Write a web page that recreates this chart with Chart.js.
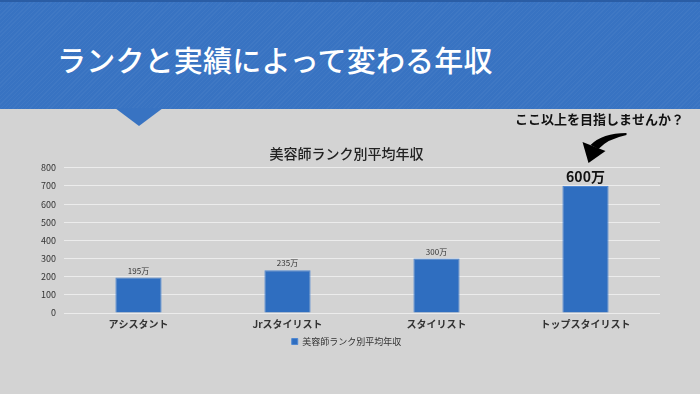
<!DOCTYPE html>
<html lang="ja">
<head>
<meta charset="utf-8">
<script src="https://cdn.jsdelivr.net/npm/chart.js@4/dist/chart.umd.min.js"></script>
<style>
  html, body { margin: 0; padding: 0; }
  body { width: 700px; height: 394px; background: #d3d3d3; position: relative; overflow: hidden;
         font-family: "Noto Sans CJK JP", "Noto Sans", sans-serif; }
  #banner { position: absolute; left: 0; top: 0; width: 700px; height: 109px;
            background: repeating-linear-gradient(135deg, rgba(255,255,255,0.035) 0 1px, rgba(0,0,0,0) 1px 3px), #3873c2;
            border-top: 2px solid #2a5da5; box-sizing: border-box; }
  #banner h1 { position: absolute; left: 57px; top: 37px; margin: 0; color: #fff;
               font-size: 29px; font-weight: 500; line-height: 40px; letter-spacing: 0.2px; }
  #pointer { position: absolute; left: 115px; top: 108px; width: 0; height: 0;
             border-left: 24px solid transparent; border-right: 24px solid transparent;
             border-top: 18px solid #3873c2; }
  #wrap { position: absolute; left: 0; top: 108px; width: 700px; height: 286px; }
</style>
</head>
<body>
<div id="banner"><h1>ランクと実績によって変わる年収</h1></div>
<div id="pointer"></div>
<div id="wrap"><canvas id="rankChart"></canvas></div>
<script>
// data
const ranks = ["アシスタント", "Jrスタイリスト", "スタイリスト", "トップスタイリスト"];
const avgIncome = [195, 235, 300, 700];
const incomeLabels = ["195万", "235万", "300万", "600万"];
const yTicks = [0, 100, 200, 300, 400, 500, 600, 700, 800];
const seriesName = "美容師ランク別平均年収";
const highlightIndex = 3;
const calloutText = "ここ以上を目指しませんか？";

const jpFont = '"Noto Sans CJK JP", "Noto Sans", sans-serif';

// value labels + arrow callout above the top bar
const barLabels = {
  id: "barLabels",
  afterDatasetsDraw(chart) {
    const ctx = chart.ctx;
    const bars = chart.getDatasetMeta(0).data;
    ctx.save();
    ctx.textAlign = "center";
    ctx.textBaseline = "middle";
    bars.forEach((bar, i) => {
      if (i === highlightIndex) {
        ctx.font = "bold 14px " + jpFont;
        ctx.fillStyle = "#111";
        ctx.fillText(incomeLabels[i], bar.x, bar.y - 9);
      } else {
        ctx.font = "8px " + jpFont;
        ctx.fillStyle = "#333";
        ctx.fillText(incomeLabels[i], bar.x, bar.y - 7);
      }
    });

    // arrow, placed relative to the highlighted bar
    const b = bars[highlightIndex];
    const x = b.x, y = b.y;
    ctx.fillStyle = "#000";
    ctx.beginPath();
    ctx.moveTo(x + 41, y - 53);
    ctx.quadraticCurveTo(x + 17, y - 53, x + 5, y - 41);
    ctx.lineTo(x + 13, y - 37);
    ctx.quadraticCurveTo(x + 22, y - 47, x + 41, y - 51);
    ctx.closePath();
    ctx.fill();
    ctx.beginPath();
    ctx.moveTo(x - 3, y - 44);
    ctx.lineTo(x + 20, y - 35);
    ctx.lineTo(x + 3, y - 23);
    ctx.closePath();
    ctx.fill();

    ctx.font = "bold 13px " + jpFont;
    ctx.fillStyle = "#111";
    ctx.fillText(calloutText, x + 14, 11);
    ctx.restore();
  }
};

new Chart(document.getElementById("rankChart"), {
  type: "bar",
  data: {
    labels: ranks,
    datasets: [{
      label: seriesName,
      data: avgIncome,
      backgroundColor: "#2f6ec0",
      borderColor: "#5088d2",
      borderWidth: 1,
      categoryPercentage: 1,
      barPercentage: 0.31
    }]
  },
  options: {
    responsive: true,
    maintainAspectRatio: false,
    animation: false,
    layout: { padding: { left: 33, right: 40, top: 0, bottom: 38 } },
    scales: {
      x: {
        grid: { display: false, drawTicks: false },
        border: { display: false },
        ticks: { color: "#333", font: { family: jpFont, size: 10, weight: "bold" }, padding: 5 }
      },
      y: {
        min: 0,
        max: 800,
        afterBuildTicks: (axis) => { axis.ticks = yTicks.map(v => ({ value: v })); },
        grid: { color: "#ececec", lineWidth: 1, drawTicks: false },
        border: { display: false },
        ticks: { color: "#333", font: { family: jpFont, size: 9 }, padding: 8 }
      }
    },
    plugins: {
      title: {
        display: true,
        text: seriesName,
        color: "#222",
        font: { family: jpFont, size: 14, weight: "500" },
        padding: { top: 37, bottom: 6 }
      },
      legend: {
        position: "bottom",
        labels: {
          color: "#333",
          font: { family: jpFont, size: 9 },
          boxWidth: 6,
          boxHeight: 6,
          padding: 2
        }
      },
      tooltip: { enabled: false }
    }
  },
  plugins: [barLabels]
});
</script>
</body>
</html>
